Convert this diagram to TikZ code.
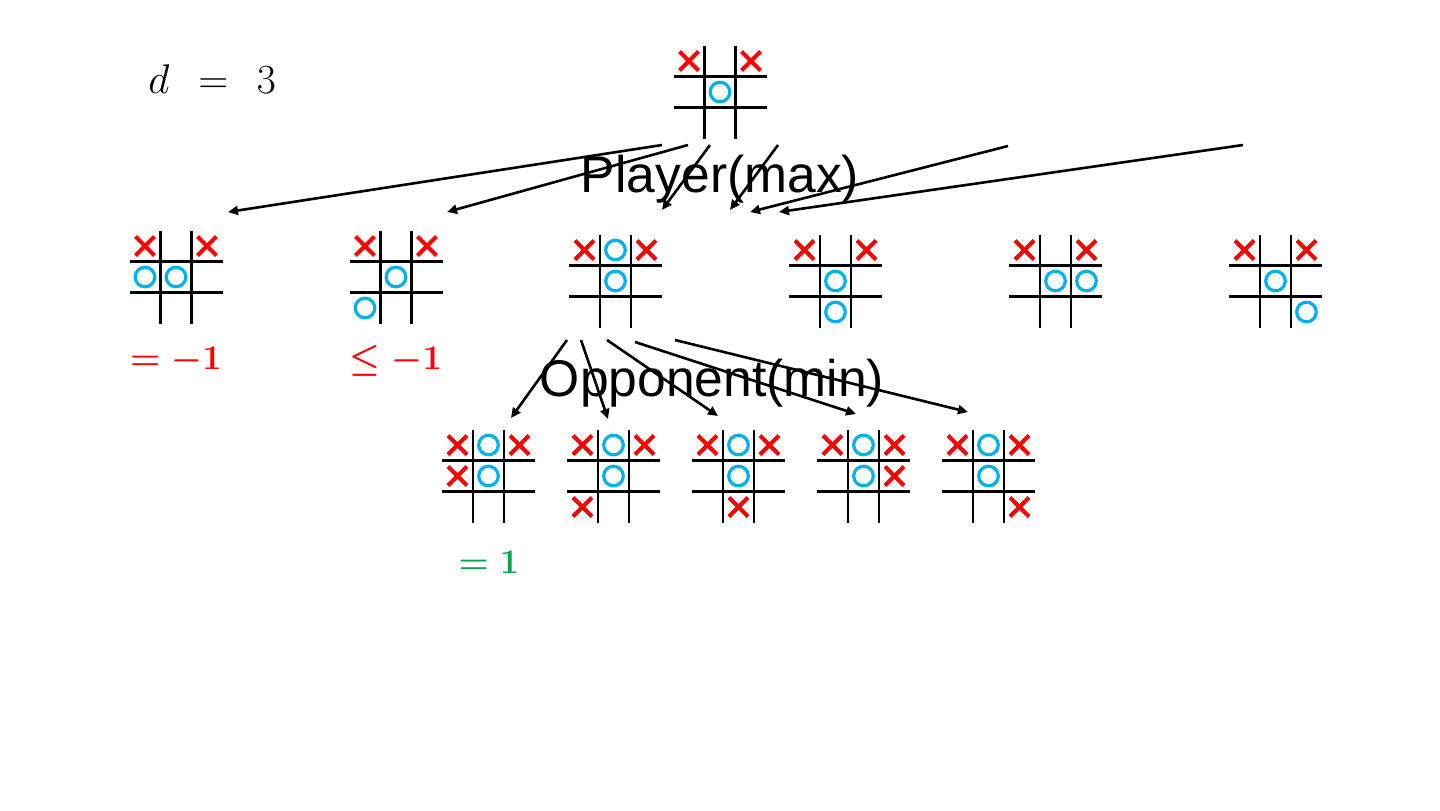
\documentclass[tikz,border=0pt]{standalone}
\usepackage{fontspec}
\newfontfamily\arialfont{Liberation Sans}
\usetikzlibrary{calc,arrows.meta}
\definecolor{xred}{RGB}{255,0,0}
\definecolor{oblue}{RGB}{0,176,240}
\definecolor{vgreen}{RGB}{0,168,80}
\newcommand{\tttboard}[5]{%
  \node[board] (#1) at (#2,#3) {};
  \draw[gridline] ($(#1)+(-15.5,-46.5)$) -- ($(#1)+(-15.5,46.5)$);
  \draw[gridline] ($(#1)+(15.5,-46.5)$) -- ($(#1)+(15.5,46.5)$);
  \draw[gridline] ($(#1)+(-46.5,-15.5)$) -- ($(#1)+(46.5,-15.5)$);
  \draw[gridline] ($(#1)+(-46.5,15.5)$) -- ($(#1)+(46.5,15.5)$);
  \foreach \cc/\rr in {#4} {
    \draw[xmk] ($(#1)+({(\cc-1)*31-9.5},{(\rr-1)*31-9.5})$) -- ++(19,19);
    \draw[xmk] ($(#1)+({(\cc-1)*31-9.5},{(\rr-1)*31+9.5})$) -- ++(19,-19);
  }
  \foreach \cc/\rr in {#5} {
    \draw[omk] ($(#1)+({(\cc-1)*31},{(\rr-1)*31})$) circle[radius=4.9pt];
  }
}
\begin{document}
\begin{tikzpicture}[x=0.5pt,y=-0.5pt,
  gridline/.style={line width=1.4pt,black},
  xmk/.style={line width=2.1pt,xred},
  omk/.style={line width=1.6pt,oblue},
  board/.style={minimum size=46.5pt,inner sep=0pt},
  edge/.style={line width=1.3pt,black,-{Triangle[length=5pt,width=4.5pt]}},
  title/.style={font=\arialfont\fontsize{25.8}{30}\selectfont,inner sep=0pt},
  val/.style={font=\fontsize{18.5}{22}\selectfont\boldmath,inner sep=0pt}]
\useasboundingbox (0,0) rectangle (1440,810);

% d = 3
\node[anchor=base west,inner sep=0pt,font=\fontsize{22.5}{26}\selectfont] (dlabel) at (148,93) {$d\mskip7.5mu=\mskip7.5mu3$};

% boards
\tttboard{root}{720}{92}{0/0,2/0}{1/1}
\tttboard{m1}{176}{277}{0/0,2/0}{0/1,1/1}
\tttboard{m2}{396}{277}{0/0,2/0}{1/1,0/2}
\tttboard{m3}{615.5}{281}{0/0,2/0}{1/0,1/1}
\tttboard{m4}{835.5}{281}{0/0,2/0}{1/1,1/2}
\tttboard{m5}{1055.5}{281}{0/0,2/0}{1/1,2/1}
\tttboard{m6}{1275.5}{281}{0/0,2/0}{1/1,2/2}
\tttboard{n1}{488.5}{476}{0/0,2/0,0/1}{1/0,1/1}
\tttboard{n2}{613.5}{476}{0/0,2/0,0/2}{1/0,1/1}
\tttboard{n3}{738.5}{476}{0/0,2/0,1/2}{1/0,1/1}
\tttboard{n4}{863.5}{476}{0/0,2/0,2/1}{1/0,1/1}
\tttboard{n5}{988.5}{476}{0/0,2/0,2/2}{1/0,1/1}

% titles
\node[title,anchor=base] (player) at (720,192) {Player(max)};
\node[title,anchor=base] (opponent) at (712,396) {Opponent(min)};

% values
\node[val,text=xred,anchor=base] (v1) at (176,369) {$=-1$};
\node[val,text=xred,anchor=base] (v2) at (396,369) {$\leq-1$};
\node[val,text=vgreen,anchor=base,font=\fontsize{17.5}{20}\selectfont\boldmath] (v3) at (489,573) {$=1$};

% arrow ends (first level)
\coordinate (s1) at (662,145); \coordinate (e1) at (228,212);
\coordinate (s2) at (688,145); \coordinate (e2) at (447,212);
\coordinate (s3) at (710,145); \coordinate (e3) at (662,210);
\coordinate (s4) at (778,145); \coordinate (e4) at (730,210);
\coordinate (s5) at (1008,146); \coordinate (e5) at (750,212);
\coordinate (s6) at (1243,145); \coordinate (e6) at (779,212);
\foreach \i in {1,...,6} { \draw[edge] (s\i) -- (e\i); }

% arrow ends (second level)
\coordinate (t1) at (567,340); \coordinate (f1) at (511,418);
\coordinate (t2) at (581,340); \coordinate (f2) at (608,419);
\coordinate (t3) at (607,340); \coordinate (f3) at (718,416);
\coordinate (t4) at (635,342); \coordinate (f4) at (856,414);
\coordinate (t5) at (675,340); \coordinate (f5) at (968,412);
\foreach \i in {1,...,5} { \draw[edge] (t\i) -- (f\i); }
\end{tikzpicture}
\end{document}
